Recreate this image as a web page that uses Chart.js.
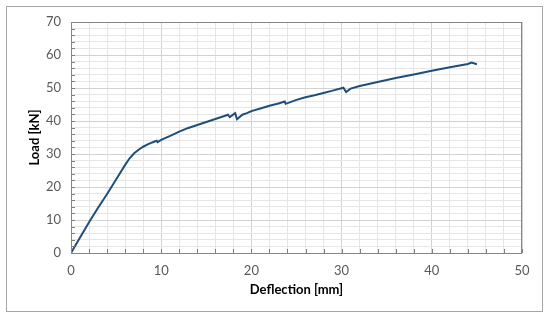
<!DOCTYPE html>
<html>
<head>
<meta charset="utf-8">
<script src="https://cdn.jsdelivr.net/npm/chart.js@4"></script>
<style>
  html, body { margin: 0; padding: 0; background: #fff; }
  #wrap { position: relative; width: 550px; height: 321px; }
  #frame { position: absolute; left: 6px; top: 6px; width: 537px; height: 306px; border: 1px solid #a6a6a6; box-sizing: border-box; }
  canvas { position: absolute; left: 0; top: 0; }
</style>
</head>
<body>
<div id="wrap">
  <div id="frame"></div>
  <canvas id="chart" width="550" height="321"></canvas>
</div>
<script>
// deflection [mm] and load [kN]
const deflection = [0, 1, 2, 3, 4, 5, 6, 6.5, 7, 7.5, 8, 8.5, 9, 9.5, 9.6, 10, 11, 12, 13, 14, 15, 16, 17, 17.4, 17.6, 18.2, 18.4, 19, 19.5, 20, 21, 22, 23, 23.7, 23.8, 25, 26, 27, 28, 29, 30.2, 30.5, 31, 32, 34, 36, 38, 40, 42, 44, 44.4, 45];
const load = [0, 4.7, 9.3, 13.7, 17.9, 22.3, 26.7, 28.7, 30.2, 31.3, 32.2, 32.9, 33.5, 34, 33.6, 34.3, 35.5, 36.8, 37.9, 38.8, 39.7, 40.6, 41.5, 41.9, 41.2, 42.4, 40.5, 41.9, 42.4, 43, 43.8, 44.6, 45.3, 45.9, 45.2, 46.4, 47.2, 47.8, 48.5, 49.2, 50.1, 48.8, 49.8, 50.6, 51.8, 53, 54.1, 55.2, 56.3, 57.3, 57.7, 57.2];

const xMax = 50, yMax = 70;
const points = deflection.map((d, i) => ({ x: d, y: load[i] }));

const gridColor = ctx => (ctx.tick && ctx.tick.value % 10 === 0) ? '#d2d2d2' : '#e6e6e6';
const labelEvery10 = v => (v % 10 === 0 ? v : '');

// small inside tick marks on both axes, like the spreadsheet chart
const minorTicks = {
    id: 'minorTicks',
    afterDatasetsDraw(chart) {
        const { ctx, chartArea: a, scales: { x, y } } = chart;
        ctx.save();
        ctx.strokeStyle = '#7f7f7f';
        ctx.lineWidth = 1;
        ctx.beginPath();
        for (let v = 0; v <= xMax; v += 2) {
            const px = Math.round(x.getPixelForValue(v)) + 0.5;
            ctx.moveTo(px, a.bottom);
            ctx.lineTo(px, a.bottom - 4);
        }
        for (let v = 0; v <= yMax; v += 2) {
            const py = Math.round(y.getPixelForValue(v)) + 0.5;
            ctx.moveTo(a.left, py);
            ctx.lineTo(a.left + 4, py);
        }
        ctx.stroke();
        ctx.strokeStyle = '#868686';
        ctx.strokeRect(a.left + 0.5, a.top + 0.5, a.right - a.left - 1, a.bottom - a.top);
        ctx.restore();
    }
};

new Chart(document.getElementById('chart'), {
    type: 'scatter',
    data: {
        datasets: [{
            data: points,
            showLine: true,
            borderColor: '#1f4e79',
            borderWidth: 2,
            pointRadius: 0,
            tension: 0
        }]
    },
    options: {
        responsive: false,
        animation: false,
        layout: { padding: { left: 0, top: 22, right: 28, bottom: 0 } },
        plugins: { legend: { display: false }, tooltip: { enabled: false } },
        scales: {
            x: {
                type: 'linear',
                min: 0, max: xMax,
                ticks: { stepSize: 2, autoSkip: false, maxRotation: 0, callback: labelEvery10, color: '#595959', font: { family: 'Lato', size: 13 }, padding: 6 },
                grid: { color: gridColor, drawTicks: true, tickLength: 4, tickColor: 'rgba(0,0,0,0)' },
                border: { display: false },
                title: { display: true, text: 'Deflection [mm]', color: '#000', font: { family: 'Lato', size: 13, weight: 'bold' }, padding: { top: 0, bottom: 23 } },
                afterFit: s => { s.height = 68; }
            },
            y: {
                type: 'linear',
                min: 0, max: yMax,
                ticks: { stepSize: 2, autoSkip: false, callback: labelEvery10, color: '#595959', font: { family: 'Lato', size: 13 }, padding: 6 },
                grid: { color: gridColor, drawTicks: true, tickLength: 4, tickColor: 'rgba(0,0,0,0)' },
                border: { display: false },
                title: { display: true, text: 'Load [kN]', color: '#000', font: { family: 'Lato', size: 13, weight: 'bold' }, padding: { top: 27, bottom: 0 } },
                afterFit: s => { s.width = 71; }
            }
        }
    },
    plugins: [minorTicks]
});
</script>
</body>
</html>
